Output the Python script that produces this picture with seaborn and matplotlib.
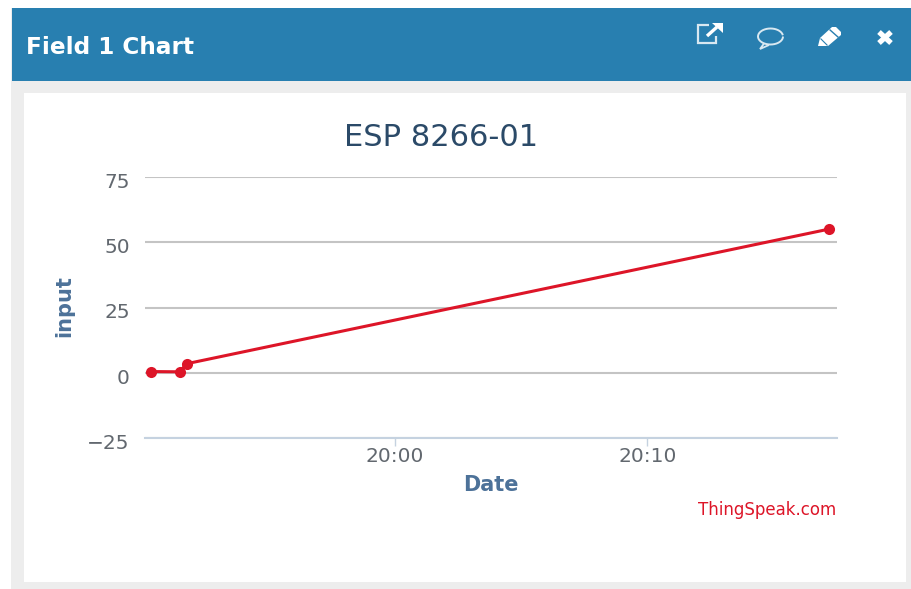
import math
import matplotlib
matplotlib.use("Agg")
import matplotlib.pyplot as plt
import matplotlib.dates as mdates
from matplotlib.patches import Rectangle, Polygon
from matplotlib.transforms import ScaledTranslation
import pandas as pd
import seaborn as sns

times = ["2016-01-01 19:50:20", "2016-01-01 19:51:28", "2016-01-01 19:51:45", "2016-01-01 20:17:12"]
values = [0.5, 0.4, 3.5, 55.0]
y_ticks = [-25, 0, 25, 50, 75]
x_ticks = ["2016-01-01 20:00:00", "2016-01-01 20:10:00"]
title = "ESP 8266-01"
header = "Field 1 Chart"
x_label = "Date"
y_label = "input"
credit = "ThingSpeak.com"

W, H = 911, 589
sns.set_theme(style="white")
plt.rcParams["font.family"] = ["DejaVu Sans"]

fig = plt.figure(figsize=(W / 100, H / 100), dpi=100, facecolor="white")

def rect(x0, y0, x1, y1, color):
    fig.add_artist(Rectangle((x0 / W, 1 - y1 / H), (x1 - x0) / W, (y1 - y0) / H,
                             transform=fig.transFigure, facecolor=color, edgecolor="none"))

def px(x, y):
    return (x / W, 1 - y / H)

rect(11, 8, W, H, "#ededed")
rect(12, 8, W, 81, "#287fb0")
rect(24, 93, 906, 582, "white")

# plot area: x 145-837, y 176.8-438.2
ax = fig.add_axes([145 / W, 1 - 438.2 / H, (837 - 145) / W, (438.2 - 176.8) / H])
ax.set_zorder(5)
ax.patch.set_alpha(0)
df = pd.DataFrame({"t": pd.to_datetime(times), "v": values})
sns.lineplot(data=df, x="t", y="v", ax=ax, color="#dd1528", linewidth=2.2, marker="o",
             markersize=8, markeredgewidth=0, zorder=5, clip_on=False)

xt = pd.to_datetime(x_ticks)
t0 = pd.Timestamp("2016-01-01 20:00:00")
m = pd.Timedelta(minutes=1)
# 20:00 at x=395, 20:10 at x=647.4 -> 25.24 px per minute
left = t0 + (145 - 395) / 25.24 * m
right = t0 + (837 - 395) / 25.24 * m
ax.set_xlim(left, right)
ax.set_ylim(-25, 75)
ax.set_yticks(y_ticks)
ax.set_xticks(xt)
ax.xaxis.set_major_formatter(mdates.DateFormatter("%H:%M"))
for s in ("top", "left", "right"):
    ax.spines[s].set_visible(False)
ax.spines["bottom"].set_color("#c5d2e0")
ax.spines["bottom"].set_linewidth(1.5)
ax.grid(axis="y", color="#c4c4c4", linewidth=1.5)
ax.grid(axis="x", visible=False)
ax.set_axisbelow(True)
ax.tick_params(axis="y", length=0, pad=11, labelsize=14.5, labelcolor="#62686f")
ax.tick_params(axis="x", length=5.5, width=1, color="#c5d2e0", pad=1, labelsize=14.5,
               labelcolor="#62686f", bottom=True)
ax.set_xlabel("")
ax.set_ylabel("")
shift = ScaledTranslation(0, -3.5 / 100, fig.dpi_scale_trans)
for lab in ax.get_yticklabels():
    lab.set_transform(lab.get_transform() + shift)

fig.text(*px(441, 138), title, ha="center", va="center", fontsize=22, color="#2b4a68")
fig.text(*px(491, 485), x_label, ha="center", va="center", fontsize=15, fontweight="bold", color="#4d7299")
fig.text(*px(64, 306.5), y_label, ha="center", va="center", rotation=90, fontsize=15, fontweight="bold", color="#4d7299")
fig.text(*px(836, 510), credit, ha="right", va="center", fontsize=12, color="#dd1528")
fig.text(*px(26, 48), header, ha="left", va="center", fontsize=16.7, fontweight="bold", color="white")

# header icons
def poly(points, **kw):
    fig.add_artist(Polygon([px(*p) for p in points], transform=fig.transFigure, **kw))

# external link
poly([(709, 25), (698, 25), (698, 43), (716, 43), (716, 36)], closed=False, fill=False, edgecolor="#d8e8f1", linewidth=1.6)
poly([(707, 36), (717, 27)], closed=False, fill=False, edgecolor="white", linewidth=2.4)
poly([(712, 23), (723, 23), (723, 33)], closed=True, facecolor="white", edgecolor="none")
# speech bubble
theta = [i / 40 * 2 * math.pi for i in range(41)]
poly([(770.5 + 12.5 * math.cos(t), 36.5 + 8 * math.sin(t)) for t in theta],
     closed=False, fill=False, edgecolor="#d8e8f1", linewidth=1.4)
poly([(764, 43.5), (760, 49), (769, 45)], closed=False, fill=False, edgecolor="#d8e8f1", linewidth=1.3)
# pencil
poly([(818, 46), (820, 38), (832, 27), (836, 27), (841, 32), (841, 35), (828, 46)],
     closed=True, facecolor="white", edgecolor="none")
poly([(829.5, 29.5), (838.5, 37.5)], closed=False, fill=False, edgecolor="#287fb0", linewidth=1.0)
poly([(820.5, 38.5), (827.5, 45.5)], closed=False, fill=False, edgecolor="#287fb0", linewidth=0.8)
# close
poly([(879, 32), (891, 43)], closed=False, fill=False, edgecolor="white", linewidth=3.8)
poly([(891, 32), (879, 43)], closed=False, fill=False, edgecolor="white", linewidth=3.8)

fig.savefig("out.png", dpi=100)
